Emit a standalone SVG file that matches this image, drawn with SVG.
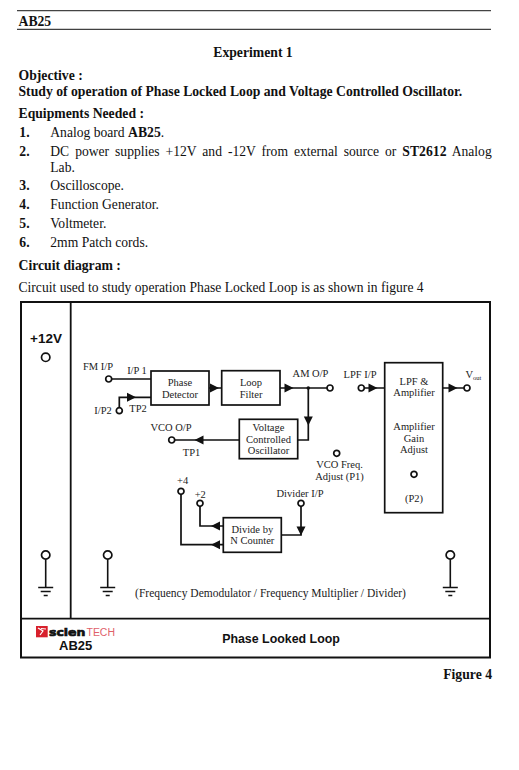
<svg xmlns="http://www.w3.org/2000/svg" width="519" height="770" viewBox="0 0 519 770">
<style>
text{font-family:"Liberation Serif","Times New Roman",serif;fill:#111}
.b{font-weight:bold;font-size:13.7px}
.t{font-size:13.6px}
.d{font-size:10.5px;fill:#222}
.m{text-anchor:middle}
.box{fill:#fff;stroke:#111;stroke-width:1.7}
.w{fill:none;stroke:#111;stroke-width:1.6}
.f{fill:none;stroke:#111;stroke-width:1.7}
.p{fill:#fff;stroke:#111;stroke-width:1.7}
.a{fill:#111;stroke:none}
.s{font-family:"Liberation Sans",Arial,sans-serif;font-weight:bold}
</style>
<defs>
<g id="gnd"><circle cx="0" cy="0" r="4.200" class="p"/><path d="M0 4.200V32M-7.500 32.500H7.500M-5 36.500H5M-2 40.500H2" class="w"/></g>
<circle id="pin" r="3" class="p"/>
<path id="ar" d="M-4.500 -4.500L4.500 0L-4.500 4.500Z" class="a"/>
</defs>
<rect width="519" height="770" fill="#fff"/>
<g id="page-text">
<path d="M17 10.700H491" stroke="#444" stroke-width="1.300" fill="none"/>
<path d="M17 29.300H491" stroke="#111" stroke-width="1" fill="none"/>
<text x="18.500" y="25.500" class="b">AB25</text>
<text x="253" y="57" class="b m">Experiment 1</text>
<text x="18.500" y="79.500" class="b">Objective :</text>
<text x="18.500" y="95.500" class="b">Study of operation of Phase Locked Loop and Voltage Controlled Oscillator.</text>
<text x="18.500" y="118" class="b">Equipments Needed :</text>
<text x="19.300" y="136.500" class="b">1.</text><text x="50.300" y="136.500" class="t">Analog board <tspan class="b">AB25</tspan>.</text>
<text x="19.300" y="155.500" class="b">2.</text><text x="50.300" y="155.500" class="t" word-spacing="2.550">DC power supplies +12V and -12V from external source or <tspan class="b">ST2612</tspan> Analog</text>
<text x="50.300" y="171.700" class="t">Lab.</text>
<text x="19.300" y="190" class="b">3.</text><text x="50.300" y="190" class="t">Oscilloscope.</text>
<text x="19.300" y="209" class="b">4.</text><text x="50.300" y="209" class="t">Function Generator.</text>
<text x="19.300" y="228" class="b">5.</text><text x="50.300" y="228" class="t">Voltmeter.</text>
<text x="19.300" y="246.700" class="b">6.</text><text x="50.300" y="246.700" class="t">2mm Patch cords.</text>
<text x="18.500" y="270" class="b">Circuit diagram :</text>
<text x="18.500" y="292" class="t">Circuit used to study operation Phase Locked Loop is as shown in figure 4</text>
<text x="492" y="679" class="b" text-anchor="end">Figure 4</text>
</g>
<g id="frame">
<rect x="21" y="302" width="469" height="355.500" fill="none" stroke="#111" stroke-width="2"/>
<path d="M70.700 302V618.700M21 618.700H490" fill="none" stroke="#111" stroke-width="1.800"/>
</g>
<g id="connectors">
<path class="f" d="M108.700 379H151M119.300 410.700V397.300H151M209 388H222M280 388H330M308.300 388V440H297.700M239.300 440H171.700M361.300 388H385M442.700 388H467M181 491.300V544.700H223.300M200 503.300V526H223.300M301 503.300V535H281.300"/>
<circle cx="308.300" cy="388" r="1.800" class="a"/>
<use href="#ar" x="131.500" y="397.300"/>
<use href="#ar" x="214.500" y="388"/>
<use href="#ar" x="289" y="388"/>
<use href="#ar" transform="translate(308.300 421) rotate(90)"/>
<use href="#ar" transform="translate(199 440) rotate(180)"/>
<use href="#ar" x="373" y="388"/>
<use href="#ar" x="453" y="388"/>
<use href="#ar" transform="translate(215.500 526) rotate(180)"/>
<use href="#ar" transform="translate(215.500 544.700) rotate(180)"/>
<use href="#ar" transform="translate(301 531) rotate(90)"/>
</g>
<g id="pin-12v"><circle cx="45.700" cy="357.300" r="4.200" class="p"/><text x="46" y="343" class="s m" font-size="13.500">+12V</text></g>
<g id="pin-fm"><use href="#pin" x="108.700" y="379"/><text x="98" y="370" class="d m">FM I/P</text><text x="137" y="374" class="d m">I/P 1</text></g>
<g id="pin-ip2"><use href="#pin" x="119.300" y="410.700"/><text x="103" y="413.500" class="d m">I/P2</text><text x="138" y="411.700" class="d m">TP2</text></g>
<g id="phase-detector"><rect x="151" y="371" width="58" height="34" class="box"/><text x="180" y="385.500" class="d m">Phase</text><text x="180" y="397.500" class="d m">Detector</text></g>
<g id="loop-filter"><rect x="221.700" y="370.700" width="58.300" height="34.300" class="box"/><text x="251" y="385.500" class="d m">Loop</text><text x="251" y="397.500" class="d m">Filter</text></g>
<g id="pin-am"><use href="#pin" x="330" y="388"/><text x="310.500" y="376.700" class="d m">AM O/P</text></g>
<g id="vco"><rect x="239.300" y="419.300" width="58.400" height="39.400" class="box"/><text x="268.500" y="431" class="d m">Voltage</text><text x="268.500" y="442.700" class="d m">Controlled</text><text x="268.500" y="454" class="d m">Oscillator</text></g>
<g id="pin-vco"><use href="#pin" x="171.700" y="440"/><text x="171" y="431" class="d m">VCO O/P</text><text x="191.500" y="456" class="d m">TP1</text></g>
<g id="pin-p1"><use href="#pin" x="336.700" y="453.300"/><text x="339.500" y="468.300" class="d m">VCO Freq.</text><text x="339.500" y="479.500" class="d m">Adjust (P1)</text></g>
<g id="pin-lpf"><use href="#pin" x="361.300" y="388"/><text x="360" y="378" class="d m">LPF I/P</text></g>
<g id="lpf"><rect x="384.700" y="362.700" width="58" height="150" class="box"/><text x="414" y="384.500" class="d m">LPF &amp;</text><text x="414" y="396" class="d m">Amplifier</text><text x="414" y="430" class="d m">Amplifier</text><text x="414" y="441.500" class="d m">Gain</text><text x="414" y="452.500" class="d m">Adjust</text><use href="#pin" x="414" y="474.300"/><text x="414" y="501.700" class="d m">(P2)</text></g>
<g id="pin-vout"><use href="#pin" x="467" y="388"/><text x="465.500" y="378" class="d">V<tspan font-size="6.500" dy="2">out</tspan></text></g>
<g id="pin-div4"><use href="#pin" x="181" y="491.300"/><text x="182.700" y="483.500" class="d m">+4</text></g>
<g id="pin-div2"><use href="#pin" x="200" y="503.300"/><text x="200.300" y="497.700" class="d m">+2</text></g>
<g id="pin-divider"><use href="#pin" x="301" y="503.300"/><text x="300" y="497.300" class="d m">Divider I/P</text></g>
<g id="divider"><rect x="223.300" y="517.700" width="58" height="34.600" class="box"/><text x="252.300" y="532.700" class="d m">Divide by</text><text x="252.300" y="544.300" class="d m">N Counter</text></g>
<g id="ground-1"><use href="#gnd" x="45.700" y="555"/></g>
<g id="ground-2"><use href="#gnd" x="107.700" y="555"/></g>
<g id="ground-3"><use href="#gnd" x="450.300" y="555"/></g>
<text x="270.500" y="596.700" class="m" style="font-size:11.500px;fill:#222">(Frequency Demodulator / Frequency Multiplier / Divider)</text>
<g id="logo">
<rect x="36" y="626" width="11.700" height="11.300" fill="#d8202c"/>
<path d="M38 628L43 631L40 635M41 628.500L46 629" fill="none" stroke="#fff" stroke-width="1.200"/>
<text x="49" y="635.500" style="font-family:'DejaVu Sans',sans-serif;font-weight:bold;font-size:11px" stroke="#111" stroke-width="0.700" textLength="36.500" lengthAdjust="spacingAndGlyphs">scien</text>
<text x="86.500" y="635.500" style="font-family:'Liberation Sans',sans-serif;font-size:10px;fill:#e0606a" textLength="28.500" lengthAdjust="spacingAndGlyphs">TECH</text>
<text x="75.700" y="650" class="s m" font-size="13">AB25</text>
</g>
<text x="281" y="643" class="s m" font-size="12.400">Phase Looked Loop</text>
</svg>
